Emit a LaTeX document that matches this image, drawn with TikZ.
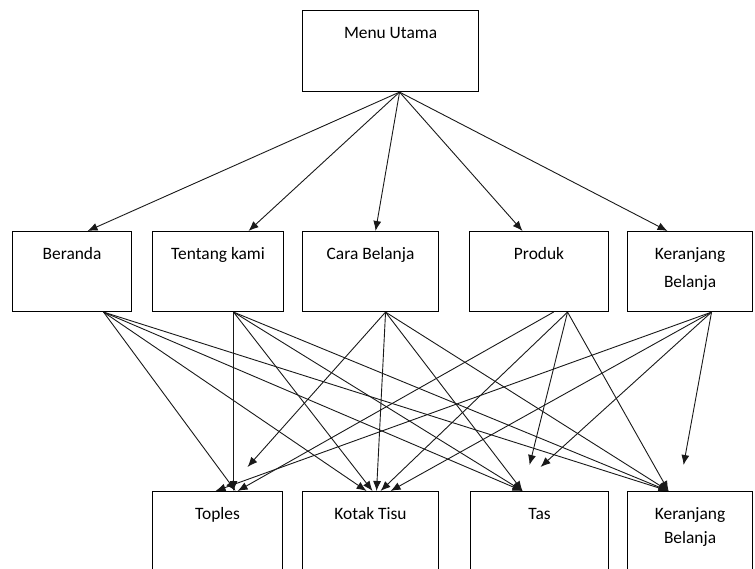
\documentclass[tikz,border=0pt]{standalone}
\usepackage{fontspec}
\setmainfont{Carlito}
\usetikzlibrary{arrows.meta}
\begin{document}
\begin{tikzpicture}[x=1pt,y=-1pt,
  box/.style={draw=black,line width=1.1pt,rectangle,anchor=north west,inner sep=0pt},
  lbl/.style={anchor=base,inner sep=0pt,font=\fontsize{17.4}{20}\selectfont,text=black},
  arr/.style={draw=black!90,line width=0.9pt,-{Latex[length=10pt,width=8pt]}}]
\useasboundingbox (0,0) rectangle (755,569);
\clip (0,0) rectangle (755,569);

% top level
\node[box,minimum width=176pt,minimum height=81pt] (menu) at (302,10) {};
% second level
\node[box,minimum width=119pt,minimum height=80pt] (ber)  at (12,231) {};
\node[box,minimum width=131pt,minimum height=80pt] (ten)  at (152,231) {};
\node[box,minimum width=136pt,minimum height=80pt] (cara) at (302,231) {};
\node[box,minimum width=139pt,minimum height=80pt] (prod) at (469,231) {};
\node[box,minimum width=125pt,minimum height=80pt] (ker)  at (627,231) {};
% third level (runs past the lower edge)
\node[box,minimum width=130pt,minimum height=90pt] (top)  at (152,491) {};
\node[box,minimum width=136pt,minimum height=90pt] (kot)  at (302,491) {};
\node[box,minimum width=138pt,minimum height=90pt] (tas)  at (470,491) {};
\node[box,minimum width=125pt,minimum height=90pt] (kerb) at (627,491) {};

% labels (shifts are in canvas points, downwards is negative)
\node[lbl] (l-menu) at ([yshift=-29pt]menu.north) {Menu Utama};
\node[lbl] (l-ber)  at ([yshift=-29pt]ber.north)  {Beranda};
\node[lbl] (l-ten)  at ([yshift=-29pt]ten.north)  {Tentang kami};
\node[lbl] (l-cara) at ([yshift=-29pt]cara.north) {Cara Belanja};
\node[lbl] (l-prod) at ([yshift=-29pt]prod.north) {Produk};
\node[lbl] (l-ker1) at ([yshift=-29pt]ker.north)  {Keranjang};
\node[lbl] (l-ker2) at ([yshift=-57pt]ker.north)  {Belanja};
\node[lbl] (l-top)  at ([yshift=-28pt]top.north)  {Toples};
\node[lbl] (l-kot)  at ([yshift=-28pt]kot.north)  {Kotak Tisu};
\node[lbl] (l-tas)  at ([yshift=-28pt]tas.north)  {Tas};
\node[lbl] (l-kb1)  at ([yshift=-28pt]kerb.north) {Keranjang};
\node[lbl] (l-kb2)  at ([yshift=-52pt]kerb.north) {Belanja};

% menu -> second level
\coordinate (m-o) at ([xshift=9pt]menu.south);
\draw[arr] (m-o) -- ([xshift=15.5pt]ber.north);
\draw[arr] (m-o) -- ([xshift=30.5pt]ten.north);
\draw[arr] (m-o) -- ([xshift=5pt]cara.north);
\draw[arr] (m-o) -- ([xshift=-16.5pt]prod.north);
\draw[arr] (m-o) -- ([xshift=-22.5pt]ker.north);

% outgoing points of the second level
\coordinate (ber-o)   at ([xshift=31.5pt]ber.south);
\coordinate (ten-o)   at ([xshift=15.5pt]ten.south);
\coordinate (cara-o)  at ([xshift=15pt]cara.south);
\coordinate (prod-oa) at ([xshift=14.5pt]prod.south);
\coordinate (prod-ob) at ([xshift=28.5pt]prod.south);
\coordinate (ker-o)   at ([xshift=21.5pt]ker.south);

% Beranda
\draw[arr] (ber-o) -- ([xshift=18pt]top.north);
\draw[arr] (ber-o) -- ([xshift=-4pt]kot.north);
\draw[arr] (ber-o) -- ([xshift=-17pt]tas.north);
\draw[arr] (ber-o) -- ([xshift=-21.5pt]kerb.north);
% Tentang kami
\draw[arr] (ten-o) -- ([xshift=16pt]top.north);
\draw[arr] (ten-o) -- ([xshift=2pt]kot.north);
\draw[arr] (ten-o) -- ([xshift=-17pt]tas.north);
\draw[arr] (ten-o) -- ([xshift=-21.5pt]kerb.north);
% Cara Belanja
\draw[arr] (cara-o) -- ([xshift=30pt,yshift=24pt]top.north);
\draw[arr] (cara-o) -- ([xshift=6pt]kot.north);
\draw[arr] (cara-o) -- ([xshift=-17pt]tas.north);
\draw[arr] (cara-o) -- ([xshift=-21.5pt]kerb.north);
% Produk
\draw[arr] (prod-oa) -- ([xshift=20pt]top.north);
\draw[arr] (prod-ob) -- ([xshift=10pt]kot.north);
\draw[arr] (prod-ob) -- ([xshift=-10pt,yshift=26pt]tas.north);
\draw[arr] (prod-ob) -- ([xshift=-21.5pt]kerb.north);
% Keranjang Belanja
\draw[arr] (ker-o) -- ([xshift=-2pt]top.north);
\draw[arr] (ker-o) -- ([xshift=20pt]kot.north);
\draw[arr] (ker-o) -- ([xshift=1pt,yshift=24pt]tas.north);
\draw[arr] (ker-o) -- ([xshift=-6.5pt,yshift=26pt]kerb.north);
\end{tikzpicture}
\end{document}
